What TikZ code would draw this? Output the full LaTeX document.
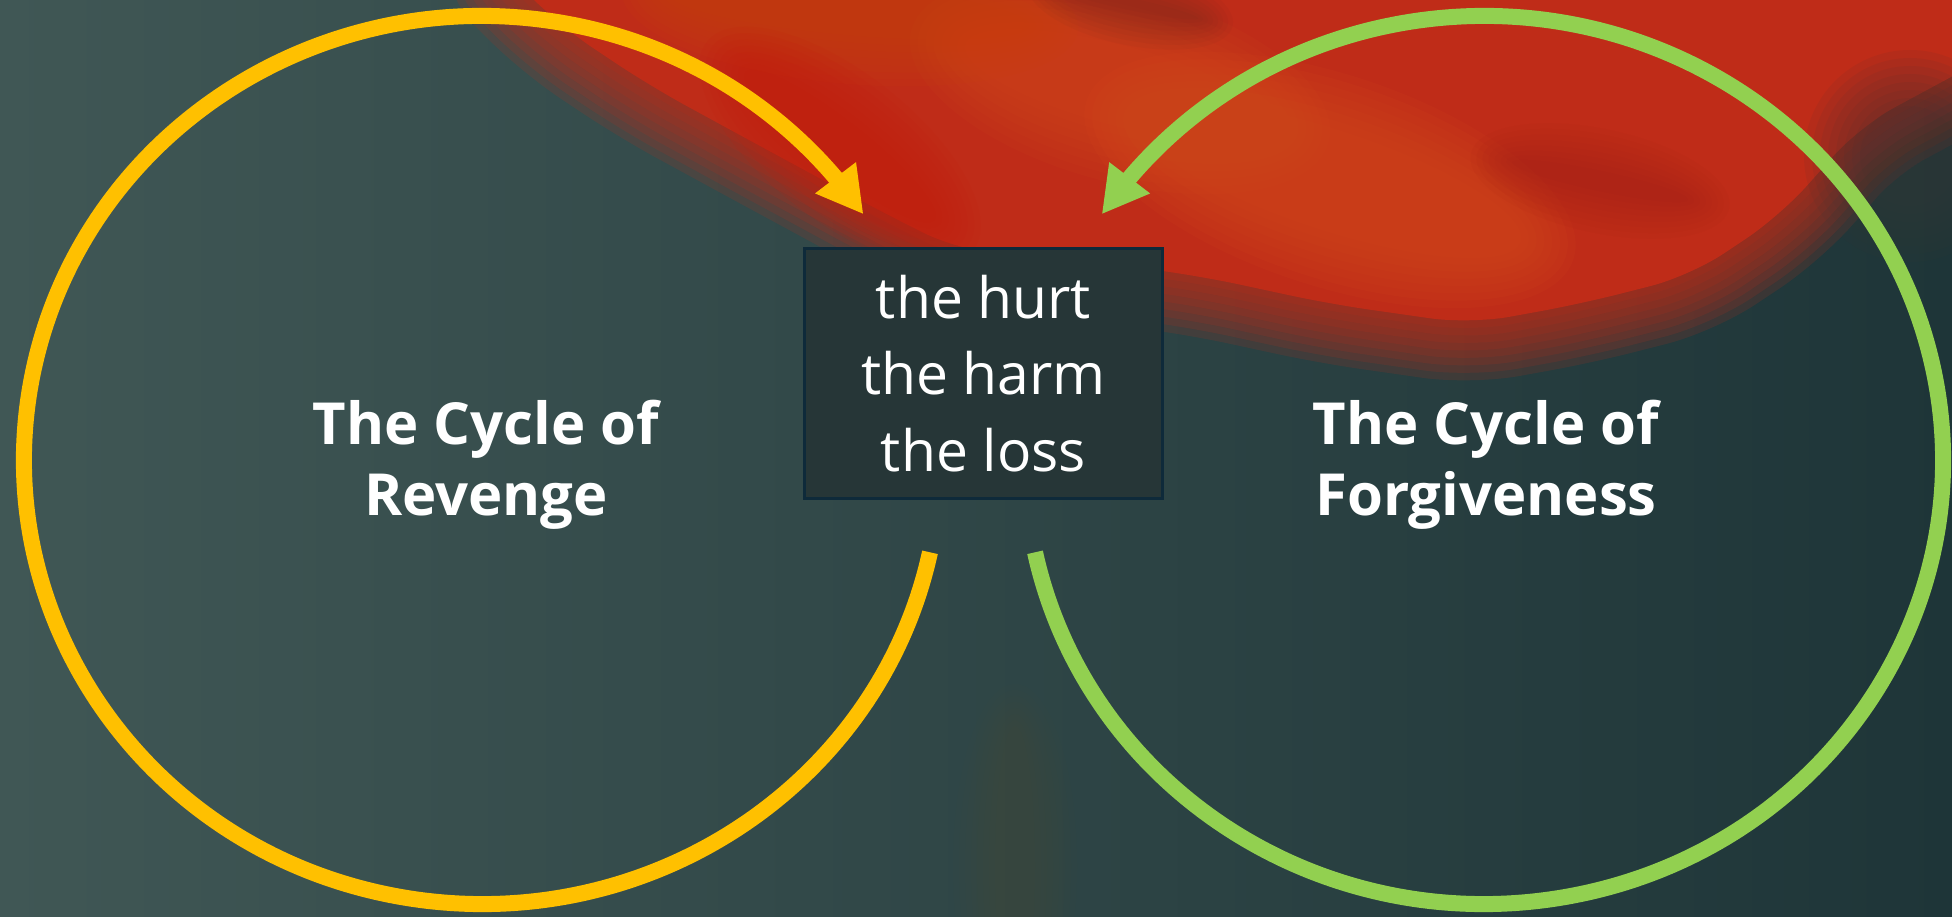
\documentclass[tikz,border=0pt]{standalone}
\usepackage{fontspec}
\setmainfont{Open Sans}
\usetikzlibrary{arrows.meta,bending}
\definecolor{bgL}{HTML}{405755}
\definecolor{bgM}{HTML}{2E4341}
\definecolor{bgR}{HTML}{1E3538}
\definecolor{redM}{HTML}{BF2C18}
\definecolor{redB}{HTML}{C41E0E}
\definecolor{orgA}{HTML}{D24A1C}
\definecolor{orgT}{HTML}{C8420E}
\definecolor{redD}{HTML}{9A1C16}
\definecolor{redK}{HTML}{6A2A20}
\definecolor{greyR}{HTML}{3A3636}
\definecolor{brn}{HTML}{6A4A1E}
\definecolor{boxF}{HTML}{263637}
\definecolor{boxB}{HTML}{0E2A3A}
\definecolor{cycY}{HTML}{FFC000}
\definecolor{cycG}{HTML}{92D050}
\newcommand\softpoly[3]{%
  \foreach \k in {1,...,8}{\draw[#1, opacity=0.16, line width={\k*#2/8}, line join=round] #3;}
  \fill[#1] #3;}
\newcommand\softell[8]{%
  \foreach \k in {0,...,7}{\fill[#1, opacity=#7, rotate around={#6:(#2,#3)}] (#2,#3) ellipse [x radius={#4+\k*#8}, y radius={#5+\k*#8}];}}
\begin{document}
\begin{tikzpicture}[x=1pt,y=1pt,
  cyc/.style={line width=16pt},
  lbl/.style={text=white, font=\fontsize{58}{71}\selectfont\bfseries, align=center, inner sep=0pt},
  hurtbox/.style={fill=boxF, draw=boxB, line width=3pt, minimum width=358pt, minimum height=250pt,
    inner sep=0pt, text=white, align=center, font=\fontsize{57}{76.5}\selectfont}]
\useasboundingbox (0,0) rectangle (1952,916);
\shade[left color=bgL, middle color=bgM, right color=bgR] (0,0) rectangle (1952,916);
% red blur
\softpoly{redM}{120}{[rounded corners=40pt] (490,960) -- (560,890) -- (650,830) -- (760,770) -- (880,705) -- (960,665) -- (1080,656) -- (1200,640) -- (1330,612) -- (1470,592) -- (1580,612) -- (1690,640) -- (1780,700) -- (1860,790) -- (1990,860) -- (1990,960) -- cycle}
\softell{orgA}{1330}{736}{200}{50}{-18}{0.12}{8}
\softell{orgA}{1120}{830}{160}{40}{-15}{0.1}{8}
\softell{orgT}{850}{906}{180}{25}{-5}{0.12}{7}
\softell{redB}{840}{770}{120}{25}{-38}{0.12}{7}
\softell{redD}{1600}{735}{90}{10}{-12}{0.06}{6}
\softell{redK}{1130}{912}{70}{6}{-12}{0.06}{5}
\softell{greyR}{1910}{760}{50}{50}{0}{0.08}{8}
\softell{brn}{1015}{50}{20}{140}{0}{0.025}{6}
% cycles
\coordinate (yc) at (482,456);
\coordinate (gc) at (1484,456);
\draw[cyc, color=cycY, -{Triangle[length=46pt,width=48pt]}]
  ([shift={(-12:458 and 444)}]yc) arc[start angle=-12, end angle=-326.4, x radius=458, y radius=444];
\draw[cyc, color=cycG, -{Triangle[length=46pt,width=48pt]}]
  ([shift={(192:459 and 444)}]gc) arc[start angle=192, end angle=506.4, x radius=459, y radius=444];
% box and labels
\node[hurtbox] (hurt) at (983.5,542.5) {the hurt\\the harm\\the loss};
\node[lbl] (rev) at (486,451) {The Cycle of\\Revenge};
\node[lbl] (forg) at (1486,451) {The Cycle of\\Forgiveness};
\end{tikzpicture}
\end{document}
